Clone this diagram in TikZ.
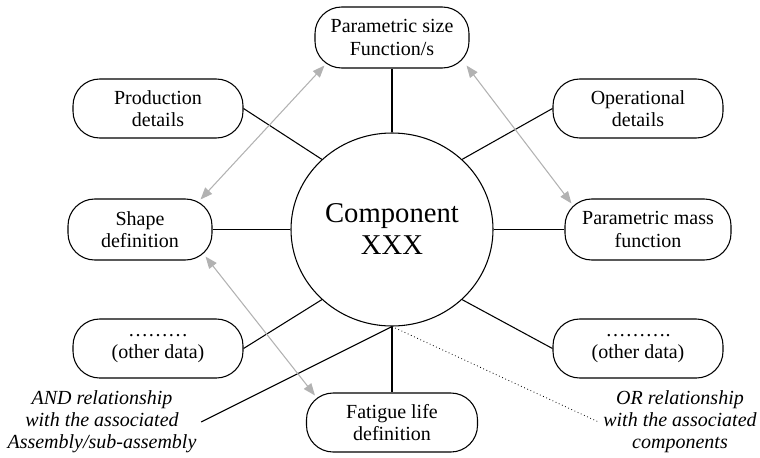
\documentclass[tikz,border=0pt]{standalone}
\usepackage{fontspec}
\setmainfont{Liberation Serif}
\usetikzlibrary{shapes.geometric,arrows.meta,calc}

\begin{document}
\begin{tikzpicture}[x=0.75pt, y=-0.75pt,
    databox/.style={rectangle, draw, line width=0.8pt, rounded corners=20pt, minimum width=127.5pt, minimum height=44.25pt, align=center, inner sep=2pt, font=\fontsize{15}{17}\selectfont},
    core/.style={ellipse, draw, line width=0.8pt, minimum width=151.5pt, minimum height=144.75pt, inner sep=0pt, align=center, font=\fontsize{21.5}{24}\selectfont},
    note/.style={align=center, font=\fontsize{15}{16.5}\selectfont\itshape},
    link/.style={line width=0.8pt},
    graylink/.style={draw=black!30, line width=0.8pt, {Triangle[length=9pt,width=7pt]}-{Triangle[length=9pt,width=7pt]}}
]
    \useasboundingbox (0,0) rectangle (760,457);

    % Component
    \node[core] (comp) at (392,229.5) {Component\\XXX};

    % Data boxes
    \node[databox, minimum width=115.5pt, minimum height=45.75pt] (size) at (392,37.5) {Parametric size\\Function/s};
    \node[databox] (prod) at (158,108.5) {Production\\details};
    \node[databox] (oper) at (638,108.5) {Operational\\details};
    \node[databox, minimum width=108pt, minimum height=45.75pt] (shape) at (140,229.5) {Shape\\definition};
    \node[databox, minimum width=124.5pt, minimum height=45.75pt] (mass) at (648,229.5) {Parametric mass\\function};
    \node[databox] (otherl) at (158,348.5) {………\\(other data)};
    \node[databox] (otherr) at (638,348.5) {……….\\(other data)};
    \node[databox, minimum width=128.25pt] (fat) at (392,422.5) {Fatigue life\\definition};

    % Notes
    \node[note] (andnote) at (102,422) {AND relationship\\with the associated\\Assembly/sub-assembly};
    \node[note] (ornote) at (680,422) {OR relationship\\with the associated\\components};

    % Links to the component
    \draw[link] (size.south) -- (comp.north);
    \draw[link] (prod.east) -- (comp.135);
    \draw[link] (oper.west) -- (comp.45);
    \draw[link] (shape.east) -- (comp.west);
    \draw[link] (comp.east) -- (mass.west);
    \draw[link] (otherl.east) -- (comp.225);
    \draw[link] (otherr.west) -- (comp.-45);
    \draw[link] (comp.south) -- (fat.north);
    \draw[link] (andnote.east) -- (comp.south);
    \draw[dotted, line width=0.6pt] (comp.south) -- (ornote.west);

    % Gray double arrows
    \draw[graylink] ($(shape.north east)+(-12,1)$) -- ($(size.south west)+(10,-3)$);
    \draw[graylink] ($(size.south east)+(-3,-3)$) -- ($(mass.north west)+(7,5)$);
    \draw[graylink] ($(shape.south east)+(-7,-4)$) -- ($(fat.north west)+(9,3)$);
\end{tikzpicture}
\end{document}
